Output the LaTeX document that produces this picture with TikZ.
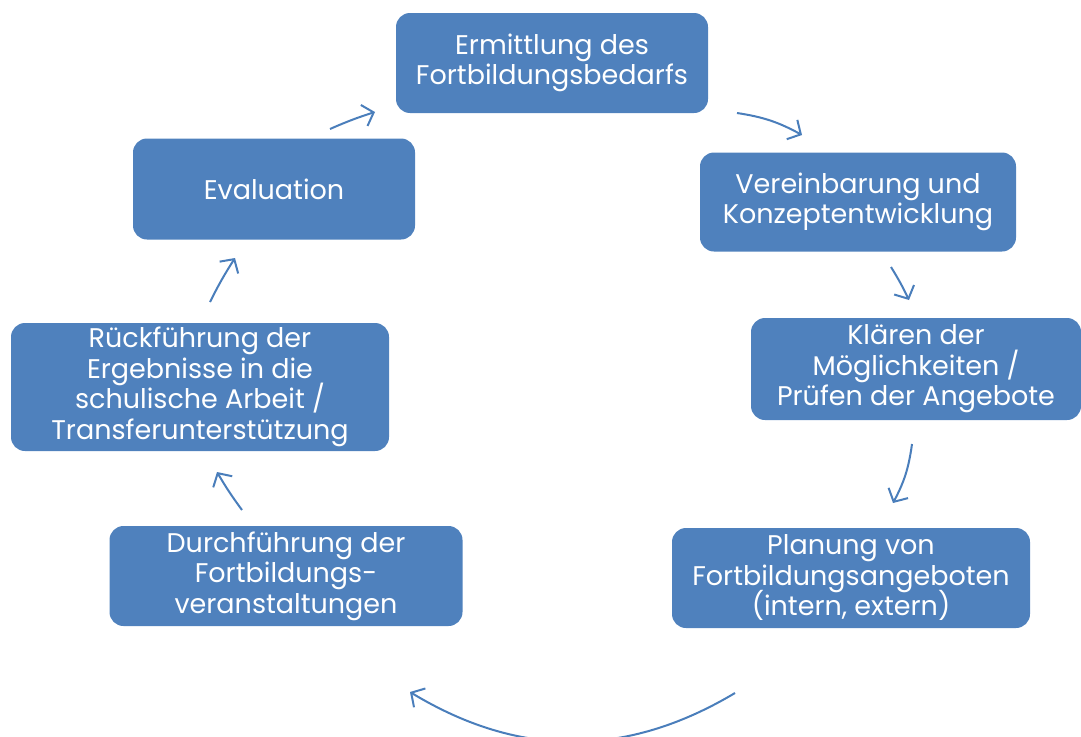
\documentclass[tikz,border=0pt]{standalone}
\usepackage{fontspec}
\setmainfont{Poppins}
\usetikzlibrary{arrows.meta}

\definecolor{zyklusblau}{HTML}{4F81BD}
\definecolor{pfeilblau}{HTML}{4A7EBB}

\newcommand\schriftzyklus{\fontsize{27}{30.5}\selectfont\lineskiplimit=-50pt\relax}

\tikzset{
    schritt/.style={rounded corners=14pt, fill=zyklusblau, text=white, align=center,
        inner sep=0pt, font=\schriftzyklus},
    pfeil/.style={draw=pfeilblau, line width=2pt,
        -{Straight Barb[length=10pt, width=22pt, line width=2pt]}},
}

\begin{document}
\begin{tikzpicture}[x=1pt, y=-1pt]
    \useasboundingbox (0,0) rectangle (1081,736);

    % die sieben Schritte
    \node[schritt, minimum width=312pt, minimum height=100pt] (bedarf) at (552,63)
        {Ermittlung des\\Fortbildungsbedarfs};
    \node[schritt, minimum width=316pt, minimum height=99pt] (konzept) at (858,202)
        {Vereinbarung und\\Konzeptentwicklung};
    \node[schritt, minimum width=330pt, minimum height=102pt] (angebote) at (916,369)
        {Klären der\\Möglichkeiten /\\Prüfen der Angebote};
    \node[schritt, minimum width=358pt, minimum height=100pt] (planung) at (851,578)
        {Planung von\\Fortbildungsangeboten\\(intern, extern)};
    \node[schritt, minimum width=353pt, minimum height=100pt] (durchf) at (286,576)
        {Durchführung der\\Fortbildungs-\\veranstaltungen};
    \node[schritt, minimum width=378pt, minimum height=128pt] (transfer) at (200,387)
        {Rückführung der\\Ergebnisse in die\\schulische Arbeit /\\Transferunterstützung};
    \node[schritt, minimum width=282pt, minimum height=101pt] (eval) at (274,189)
        {Evaluation};

    % Pfeile zwischen den Schritten
    \coordinate (p1a) at (737,113);  \coordinate (p1b) at (802,135);
    \coordinate (p2a) at (891,267);  \coordinate (p2b) at (909,300);
    \coordinate (p3a) at (912,444);  \coordinate (p3b) at (893,503);
    \coordinate (p4a) at (735,693);  \coordinate (p4b) at (410,692);
    \coordinate (p5a) at (242,510);  \coordinate (p5b) at (217,472);
    \coordinate (p6a) at (210,302);  \coordinate (p6b) at (235,258);
    \coordinate (p7a) at (330,129);  \coordinate (p7b) at (375,112);

    \draw[pfeil] (p1a) to[bend left=10] (p1b);
    \draw[pfeil] (p2a) to[bend left=3] (p2b);
    \draw[pfeil] (p3a) to[bend left=10] (p3b);
    \draw[pfeil] (p4a) to[bend left=31] (p4b);
    \draw[pfeil] (p5a) to[bend left=3] (p5b);
    \draw[pfeil] (p6a) to[bend left=3] (p6b);
    \draw[pfeil] (p7a) to[bend left=3] (p7b);
\end{tikzpicture}
\end{document}
